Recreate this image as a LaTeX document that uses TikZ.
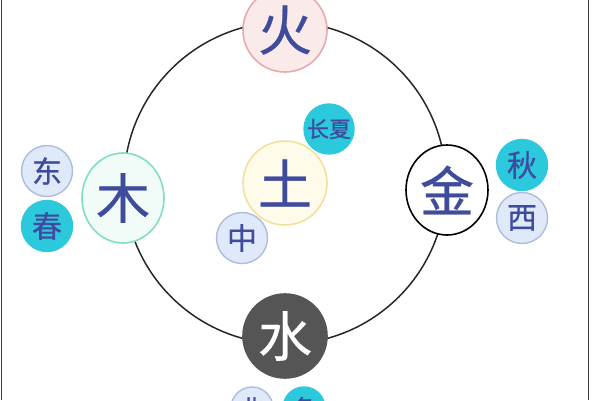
\documentclass[tikz,border=0pt]{standalone}
\usepackage{fontspec}
\usetikzlibrary{shapes.geometric}
\setmainfont[FakeBold=0.6]{Noto Sans CJK SC}
\definecolor{txt}{HTML}{3F4C9E}
\definecolor{cyanf}{HTML}{2CC8DC}
\definecolor{lbf}{HTML}{DFE9F9}
\definecolor{lbd}{HTML}{AEBCDC}
\definecolor{huof}{HTML}{FBEAEA}
\definecolor{huod}{HTML}{E8AAAC}
\definecolor{muf}{HTML}{F1FBF7}
\definecolor{mud}{HTML}{80DEC4}
\definecolor{tuf}{HTML}{FFFBEB}
\definecolor{tud}{HTML}{F3E09C}
\definecolor{shuif}{HTML}{555555}
\tikzset{
  el/.style={ellipse,inner sep=0pt,line width=1.6pt,text=txt,minimum width=84pt,minimum height=84pt,font=\fontsize{54}{54}\selectfont},
  small/.style={circle,inner sep=0pt,line width=1.4pt,text=txt,minimum size=51pt,font=\fontsize{30}{30}\selectfont},
  cy/.style={small,fill=cyanf,draw=cyanf},
  lb/.style={small,fill=lbf,draw=lbd},
}
\begin{document}
\begin{tikzpicture}[x=1pt,y=-1pt]
\useasboundingbox (0,0) rectangle (600,400);
\clip (0,0) rectangle (600,400);
\draw[line width=1.5pt,black!75] (1.5,0) -- (1.5,400);
\draw[line width=1.5pt,black!75] (588.5,0) -- (588.5,400);
\draw[line width=1.5pt,black!85] (285,183) circle (161);
\node[el,fill=huof,draw=huod] (huo) at (285,30) {火};
\node[el,fill=muf,draw=mud,minimum width=82pt,minimum height=90pt] (mu) at (123,198) {木};
\node[el,fill=tuf,draw=tud] (tu) at (285,183) {土};
\node[el,fill=white,draw=black,minimum width=82pt,minimum height=90pt] (jin) at (447,190) {金};
\node[el,fill=shuif,draw=shuif,text=white] (shui) at (285,336) {水};
\node[cy,minimum size=50pt,font=\fontsize{22}{22}\selectfont] (cx) at (329,129) {长夏};
\node[lb] (zhong) at (242,238) {中};
\node[lb] (dong) at (47,171) {东};
\node[cy] (chun) at (47,226) {春};
\node[cy] (qiu) at (522,165) {秋};
\node[lb] (xi) at (522,218) {西};
\node[lb,minimum size=42pt,font=\fontsize{24}{24}\selectfont] (bei) at (252,408) {北};
\node[cy,minimum size=42pt,font=\fontsize{24}{24}\selectfont] (dongj) at (304,408) {冬};
\end{tikzpicture}
\end{document}
